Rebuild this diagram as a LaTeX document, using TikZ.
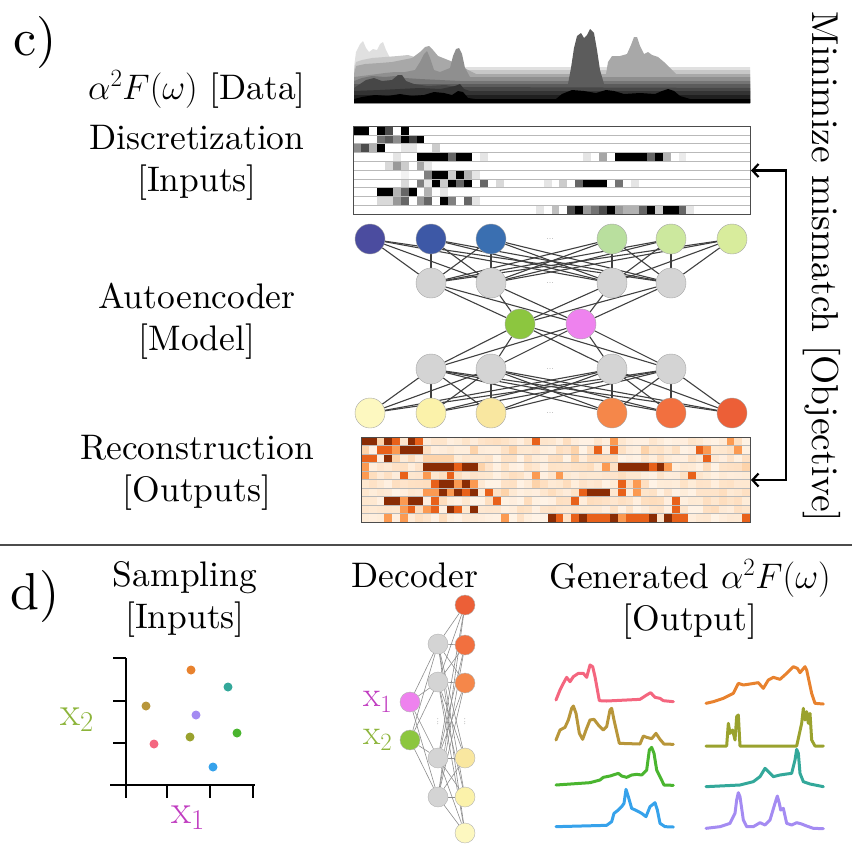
\RequirePackage{fix-cm}
\documentclass[tikz,border=0pt]{standalone}
\usepackage{amsmath}
\usetikzlibrary{positioning,arrows.meta}
\pgfdeclarelayer{bg}
\pgfsetlayers{bg,main}

% one design size of Latin Modern at every size
\providecommand\UnicodeFontFile[2]{"[#1]:#2"}
\providecommand\UnicodeFontTeXLigatures{mapping=tex-text;}
\DeclareFontShape{TU}{lmr}{m}{n}{<->\UnicodeFontFile{lmroman10-regular}{\UnicodeFontTeXLigatures}}{}

\definecolor{ae1}{HTML}{4B4C9F}
\definecolor{ae2}{HTML}{3D58A6}
\definecolor{ae3}{HTML}{3A6FB1}
\definecolor{ae4}{HTML}{B9DF9E}
\definecolor{ae5}{HTML}{CCE89E}
\definecolor{ae6}{HTML}{D8EC9C}
\definecolor{ad1}{HTML}{FDF8C0}
\definecolor{ad2}{HTML}{FBF2AA}
\definecolor{ad3}{HTML}{F9E7A0}
\definecolor{ad4}{HTML}{F5874A}
\definecolor{ad5}{HTML}{F2703F}
\definecolor{ad6}{HTML}{EC5F37}
\definecolor{hid}{HTML}{D4D4D4}
\definecolor{zgreen}{HTML}{8CC63F}
\definecolor{zpink}{HTML}{EE82EE}
\definecolor{or0}{HTML}{FFF3E6}
\definecolor{or1}{HTML}{FDD3AA}
\definecolor{or2}{HTML}{FB9A52}
\definecolor{or3}{HTML}{E8611A}
\definecolor{or4}{HTML}{8A2C04}
\definecolor{cpink}{HTML}{F4667F}
\definecolor{ctan}{HTML}{B8963A}
\definecolor{cgreen}{HTML}{4AB52F}
\definecolor{cblue}{HTML}{36A2EB}
\definecolor{corange}{HTML}{E8822E}
\definecolor{colive}{HTML}{9AA22E}
\definecolor{cteal}{HTML}{33A89A}
\definecolor{cpurple}{HTML}{A48BF2}
\definecolor{xone}{HTML}{C03CC0}
\definecolor{xtwo}{HTML}{8CB43A}

\begin{document}
\begin{tikzpicture}[x=1pt,y=-1pt,
	neuron/.style = {circle,draw=gray!70,inner sep=0pt,minimum size=30pt},
	small neuron/.style = {circle,draw=gray!60,inner sep=0pt,minimum size=20pt},
	edge/.style = {draw=black!75,line width=1.1pt},
	thin edge/.style = {draw=black!45,line width=0.6pt},
	lbl/.style = {font=\fontsize{35.5}{42}\selectfont,align=center},
	big lbl/.style = {font=\fontsize{41}{42}\selectfont},
	tag/.style = {font=\fontsize{52}{52}\selectfont},
	dots/.style = {font=\fontsize{9}{9}\selectfont,text=gray},
	spec/.style = {line width=3pt,line join=round,line cap=round},
	sample/.style = {circle,inner sep=0pt,minimum size=9pt},
	axis/.style = {line width=2pt},
	frame/.style = {draw=black!70,line width=1pt,inner sep=0pt,anchor=north west}]

\useasboundingbox (0,0) rectangle (852,854);

% ---- c) ----
\node[tag] (c) at (35,42) {c)};
\node[lbl] (data) at (197,89) {$\alpha^2F(\omega)$ [Data]};
\node[lbl] (inputs) at (197,163) {Discretization\\{[Inputs]}};
\node[lbl] (model) at (197,321) {Autoencoder\\{[Model]}};
\node[lbl] (outputs) at (197,473) {Reconstruction\\{[Outputs]}};
\node[lbl,font=\fontsize{37.5}{42}\selectfont,rotate=-90] (obj) at (822,267) {Minimize mismatch [Objective]};

% data curves
\fill[black!12] (354,103) -- (354,67) -- (356,52) -- (360,44) -- (363,41) -- (366,48) -- (369,52) -- (373,49) -- (377,50) -- (380,44) -- (383,42) -- (386,50) -- (390,58) -- (396,62) -- (420,64) -- (440,66) -- (460,67) -- (750,67) -- (750,103) -- cycle;
\fill[black!22] (354,103) -- (354,70) -- (356,62) -- (362,60) -- (372,58) -- (385,57) -- (398,56) -- (408,55) -- (418,58) -- (430,62) -- (445,66) -- (460,70) -- (750,70) -- (750,103) -- cycle;
\fill[black!34] (354,103) -- (354,74) -- (356,66) -- (365,64) -- (380,63) -- (392,62) -- (402,60) -- (412,58) -- (420,52) -- (425,47) -- (429,46) -- (433,50) -- (438,56) -- (448,60) -- (458,64) -- (468,70) -- (476,74) -- (606,74) -- (608,62) -- (612,56) -- (620,56) -- (627,54) -- (631,45) -- (634,37) -- (637,37) -- (640,46) -- (644,54) -- (648,52) -- (652,55) -- (658,57) -- (664,62) -- (670,68) -- (676,74) -- (750,74) -- (750,103) -- cycle;
\fill[black!44] (354,103) -- (354,77) -- (370,75) -- (385,73) -- (395,72) -- (405,72) -- (415,70) -- (420,62) -- (424,54) -- (427,51) -- (430,58) -- (434,70) -- (440,72) -- (450,68) -- (453,56) -- (456,49) -- (459,48) -- (462,54) -- (465,68) -- (470,77) -- (750,77) -- (750,103) -- cycle;
\fill[black!54] (354,103) -- (354,81) -- (362,78) -- (372,76) -- (385,77) -- (395,76) -- (405,78) -- (420,79) -- (440,80) -- (460,81) -- (750,81) -- (750,103) -- cycle;
\fill[black!64] (354,103) -- (354,84) -- (568,84) -- (571,68) -- (574,48) -- (577,36) -- (581,33) -- (584,38) -- (587,35) -- (590,29) -- (594,33) -- (597,50) -- (600,70) -- (604,84) -- (750,84) -- (750,103) -- cycle;
\fill[black!72] (354,103) -- (354,88) -- (360,84) -- (366,80) -- (374,78) -- (382,81) -- (392,80) -- (398,75) -- (402,75) -- (406,81) -- (414,84) -- (428,86) -- (445,85) -- (458,87) -- (750,88) -- (750,103) -- cycle;
\fill[black!80] (354,103) -- (354,91) -- (380,90) -- (420,88) -- (440,89) -- (455,86) -- (460,84) -- (464,89) -- (470,91) -- (750,91) -- (750,103) -- cycle;
\fill[black!88] (354,103) -- (354,95) -- (750,95) -- (750,103) -- cycle;
\fill[black] (354,103) -- (354,99) -- (362,97) -- (375,95) -- (388,96) -- (400,94) -- (412,96) -- (424,95) -- (434,92) -- (444,93) -- (452,95) -- (458,91) -- (463,92) -- (468,98) -- (475,99) -- (556,99) -- (562,94) -- (572,90) -- (584,91) -- (596,93) -- (606,90) -- (614,91) -- (624,94) -- (640,93) -- (655,94) -- (662,91) -- (668,89) -- (674,91) -- (680,96) -- (690,99) -- (750,99) -- (750,103) -- cycle;

% discretization
\foreach \r/\cells in {
	0/{0/100,1/100,3/100,4/70,6/100},
	1/{3/55,4/65,5/45,6/100,7/75,8/100},
	2/{0/45,1/70,2/30,3/100,6/10,7/10,10/20},
	3/{5/10,8/100,9/100,10/100,11/100,12/60,13/100,14/100,16/10,29/10,31/35,33/100,34/100,35/100,36/100,37/60,38/100,39/30,41/8},
	4/{4/15,5/40,6/20,8/35,9/10},
	5/{6/5,9/50,10/100,11/100,12/20,13/100,14/30,15/10},
	6/{6/15,8/50,9/10,10/100,11/20,12/100,13/60,14/100,16/60,18/15,24/10,26/20,28/60,29/100,30/100,31/100,33/55,35/10},
	7/{3/100,4/100,5/30,6/60,7/100,9/30,11/10},
	8/{3/15,4/15,5/40,6/60,8/40,9/60,11/100,12/50,14/60,15/10},
	9/{23/10,25/25,27/70,28/100,29/40,30/55,31/70,32/100,33/40,34/30,35/30,36/60,37/100,38/20,39/100,40/100,41/60,42/10}}
	\foreach \c/\v in \cells
		\fill[black!\v] ({353+\c*7.94},{126+\r*8.8}) rectangle ++(7.94,8.8);
\foreach \r in {1,...,9}
	\draw[gray!55,line width=0.6pt] (353,{126+\r*8.8}) -- (750,{126+\r*8.8});
\node[frame,minimum width=397pt,minimum height=88pt] (disc) at (353,126) {};

% reconstruction
\fill[or0] (361,437) rectangle (750,522);
\pgfmathsetseed{11}
\foreach \r in {0,...,9}
	\foreach \c in {0,...,49} {
		\pgfmathsetmacro\q{int(70*rnd)}
		\fill[or1!\q!or0] ({361+\c*7.78},{437+\r*8.5}) rectangle ++(7.78,8.5);
	}
\foreach \r/\cells in {
	0/{0/4,1/4,2/1,3/4,4/3,6/4,7/3,22/3,32/2,47/2},
	1/{0/1,2/3,3/3,4/2,5/4,6/4,7/4,14/1,19/1,27/1,30/3,32/3,36/1,43/3,44/2,48/2},
	2/{0/3,1/3,3/4,4/1,8/1,9/1,10/1,11/1,27/1,44/3},
	3/{0/2,8/4,9/4,10/4,11/4,12/3,13/4,14/4,15/1,31/2,33/4,34/4,35/4,36/4,37/3,38/4,39/2,49/1},
	4/{0/2,5/3,8/2,11/3,22/2,25/2,42/3},
	5/{9/3,10/4,11/4,12/2,13/4,14/2,22/1,33/3,35/2},
	6/{8/2,9/2,10/4,11/2,12/4,13/3,14/4,16/3,18/1,28/3,29/4,30/4,31/4,33/3,35/2},
	7/{3/4,4/4,5/2,6/4,7/4,9/3,17/3,27/3,40/3},
	8/{5/2,6/3,8/2,9/3,11/4,12/3,14/4,40/3},
	9/{3/2,5/2,18/2,24/4,25/3,27/3,28/4,29/3,30/3,31/3,32/4,33/2,34/3,35/3,36/3,37/4,39/4,40/3,41/3,49/3}}
	\foreach \c/\v in \cells
		\fill[or\v] ({361+\c*7.78},{437+\r*8.5}) rectangle ++(7.78,8.5);
\foreach \r in {1,...,9}
	\draw[gray!55,line width=0.6pt] (361,{437+\r*8.5}) -- (750,{437+\r*8.5});
\node[frame,minimum width=389pt,minimum height=85pt] (recon) at (361,437) {};

\draw[line width=2.2pt,{Straight Barb[length=6pt,width=13pt]}-{Straight Barb[length=6pt,width=13pt]}] (disc.east) -- ++(35,0) |- (recon.east);

% autoencoder
\foreach \n/\x in {1/370,2/431,3/491,4/612,5/671,6/732}
	\node[neuron,fill=ae\n] (a\n) at (\x,239) {};
\foreach \n/\x in {1/431,2/491,3/612,4/671} {
	\node[neuron,fill=hid] (b\n) at (\x,283) {};
	\node[neuron,fill=hid] (e\n) at (\x,369) {};
}
\node[neuron,fill=zgreen] (z1) at (520,324) {};
\node[neuron,fill=zpink] (z2) at (581,324) {};
\foreach \n/\x in {1/370,2/431,3/491,4/612,5/671,6/732}
	\node[neuron,fill=ad\n] (d\n) at (\x,413) {};
\foreach \y in {239,283,369,413}
	\node[dots] at (550,\y) {...};
\begin{pgfonlayer}{bg}
	\foreach \i in {1,...,6}
		\foreach \j in {1,...,4} {
			\draw[edge] (a\i) -- (b\j);
			\draw[edge] (d\i) -- (e\j);
		}
	\foreach \i in {1,...,4}
		\foreach \j in {1,2} {
			\draw[edge] (b\i) -- (z\j);
			\draw[edge] (e\i) -- (z\j);
		}
\end{pgfonlayer}

\draw[black!70,line width=1.2pt] (0,545) -- (852,545);

% ---- d) ----
\node[tag] (d) at (35,596) {d)};
\node[lbl] (sampling) at (185,599) {Sampling\\{[Inputs]}};
\node[lbl] (decoder) at (415,575) {Decoder};
\node[lbl] (generated) at (690,599) {Generated $\alpha^2F(\omega)$\\{[Output]}};

% sampling
\draw[axis] (126,658) -- (126,798);
\draw[axis] (110,785) -- (255,785);
\foreach \y in {658,701,743}
	\draw[axis] (113,\y) -- (126,\y);
\foreach \x in {167,210,253}
	\draw[axis] (\x,785) -- (\x,798);
\foreach \n/\x/\y/\c in {s1/191/670/corange,s2/228/687/cteal,s3/146/706/ctan,s4/196/715/cpurple,
	s5/190/737/colive,s6/237/733/cgreen,s7/154/744/cpink,s8/213/767/cblue}
	\node[sample,fill=\c] (\n) at (\x,\y) {};
\node[big lbl,text=xtwo] (xtwo) at (77,720) {$\mathrm{x}_2$};
\node[big lbl,text=xone] (xone) at (188,818) {$\mathrm{x}_1$};

% decoder
\node[small neuron,fill=zpink] (p1) at (410,702) {};
\node[small neuron,fill=zgreen] (p2) at (410,740) {};
\foreach \n/\y in {1/644,2/682,3/758,4/797}
	\node[small neuron,fill=hid] (h\n) at (438,\y) {};
\foreach \n/\y/\c in {1/605/ad6,2/645/ad5,3/683/ad4,4/758/ad3,5/797/ad2,6/833/ad1}
	\node[small neuron,fill=\c] (o\n) at (465,\y) {};
\node[dots,rotate=90] at (438,722) {...};
\node[dots,rotate=90] at (465,722) {...};
\node[lbl,text=xone,left=4pt of p1] (pl1) {$\mathrm{x}_1$};
\node[lbl,text=xtwo,left=4pt of p2] (pl2) {$\mathrm{x}_2$};
\begin{pgfonlayer}{bg}
	\foreach \i in {1,2}
		\foreach \j in {1,...,4}
			\draw[thin edge] (p\i) -- (h\j);
	\foreach \i in {1,...,4}
		\foreach \j in {1,...,6}
			\draw[thin edge] (h\i) -- (o\j);
\end{pgfonlayer}

% generated spectra
\begin{scope}[shift={(540,640)},scale=1/3]
	\draw[spec,cpink] plot coordinates {(48,180) (60,150) (70,130) (80,112) (90,125) (100,110) (115,100) (130,100) (140,112) (150,75) (158,80) (165,110) (178,182) (200,183) (300,178) (320,165) (332,158) (345,172) (360,175) (370,182) (400,185)};
	\draw[spec,ctan] plot coordinates {(48,300) (60,270) (75,262) (85,240) (95,205) (100,198) (108,220) (118,280) (128,298) (138,270) (150,240) (162,238) (175,255) (190,270) (200,260) (210,210) (215,205) (222,240) (238,310) (300,312) (310,288) (320,292) (335,296) (348,280) (360,298) (372,312) (400,313)};
	\draw[spec,cgreen] plot coordinates {(48,435) (150,428) (180,420) (190,412) (210,408) (235,400) (245,408) (260,412) (275,405) (290,403) (305,405) (320,390) (328,330) (335,322) (342,340) (350,390) (360,410) (372,435) (400,436)};
	\draw[spec,cblue] plot coordinates {(48,560) (200,556) (215,545) (222,520) (235,510) (245,500) (252,490) (258,448) (265,470) (275,505) (290,512) (305,520) (318,530) (330,500) (345,488) (352,510) (360,550) (375,560) (400,561)};
	\draw[spec,corange] plot coordinates {(498,190) (520,185) (550,175) (580,160) (595,130) (610,135) (630,132) (655,128) (670,145) (685,120) (700,112) (720,118) (740,100) (760,80) (772,85) (780,98) (795,80) (800,90) (815,160) (825,190) (850,192)};
	\draw[spec,colive] plot coordinates {(498,318) (560,318) (565,250) (570,280) (578,270) (585,300) (590,230) (595,225) (600,318) (770,318) (785,250) (790,205) (795,240) (800,215) (805,250) (810,220) (815,300) (825,318) (850,318)};
	\draw[spec,cteal] plot coordinates {(498,440) (600,435) (640,425) (660,410) (675,385) (690,400) (700,410) (720,405) (740,402) (755,400) (765,360) (770,328) (775,340) (780,400) (790,425) (810,432) (850,440)};
	\draw[spec,cpurple] plot coordinates {(498,565) (540,560) (570,550) (585,520) (590,480) (595,458) (600,470) (610,540) (620,560) (640,560) (660,548) (675,555) (690,540) (705,490) (712,468) (718,490) (722,510) (730,505) (740,550) (755,555) (770,548) (785,552) (800,558) (820,565) (850,566)};
\end{scope}

\end{tikzpicture}
\end{document}
